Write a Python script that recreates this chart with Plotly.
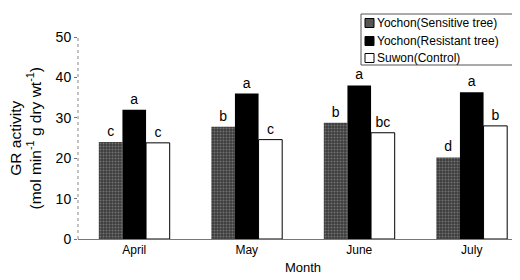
import plotly.graph_objects as go

months = ["April", "May", "June", "July"]
sensitive = [24.0, 27.8, 28.8, 20.2]
resistant = [32.0, 36.0, 38.0, 36.3]
control = [23.8, 24.6, 26.3, 28.0]
sens_labels = ["c", "b", "b", "d"]
res_labels = ["a", "a", "a", "a"]
ctrl_labels = ["c", "c", "bc", "b"]
series_names = ["Yochon(Sensitive tree)", "Yochon(Resistant tree)", "Suwon(Control)"]
y_title = "GR activity<br>(mol min<sup>-1</sup> g dry wt<sup>-1</sup>)"

FONT = "Liberation Sans, Arial, sans-serif"
lab_font = dict(family=FONT, size=14, color="black")

sens_marker = dict(color="#4a4a4a", line=dict(width=0),
                   pattern=dict(shape=".", bgcolor="#3c3c3c", fgcolor="#a8a8a8",
                                size=3, solidity=0.35))
res_marker = dict(color="black", line=dict(width=0))
ctrl_marker = dict(color="white", line=dict(color="black", width=1))

fig = go.Figure()
fig.add_trace(go.Bar(x=months, y=sensitive, name=series_names[0], text=sens_labels,
                     textposition="outside", textfont=lab_font, cliponaxis=False,
                     marker=sens_marker))
fig.add_trace(go.Bar(x=months, y=resistant, name=series_names[1], text=res_labels,
                     textposition="outside", textfont=lab_font, cliponaxis=False,
                     marker=res_marker))
fig.add_trace(go.Bar(x=months, y=control, name=series_names[2], text=ctrl_labels,
                     textposition="outside", textfont=lab_font, cliponaxis=False,
                     marker=ctrl_marker))

# custom compact legend (paper coords: plot area 70..520 px wide, 29..231 px tall)
W, H, L, T = 450.0, 202.0, 70.0, 29.0
def px(x):
    return (x - L) / W
def py(y):
    return (T + H - y) / H

shapes = [
    # dotted y axis line
    dict(type="line", xref="paper", yref="paper", x0=0, x1=0, y0=0, y1=1,
         line=dict(color="#888", width=1, dash="dot"), layer="above"),
    dict(type="rect", xref="paper", yref="paper",
         x0=px(353), x1=px(506), y0=py(57), y1=py(6),
         line=dict(color="#555", width=1), fillcolor="white", layer="above"),
]
annotations = [
    dict(text=y_title, xref="paper", yref="paper", x=px(16.5), y=py(131),
         xanchor="center", yanchor="middle", textangle=-90, showarrow=False,
         align="center", borderpad=0,
         font=dict(family=FONT, size=15.5, color="black")),
]
sym_fill = ["#555555", "black", "white"]
row_y = [15, 33, 50]
for name, fc, yy in zip(series_names, sym_fill, row_y):
    shapes.append(dict(type="rect", xref="paper", yref="paper",
                       x0=px(357), x1=px(366), y0=py(yy + 4.5), y1=py(yy - 4.5),
                       line=dict(color="black", width=1), fillcolor=fc, layer="above"))
    annotations.append(dict(text=name, xref="paper", yref="paper",
                            x=px(367), y=py(yy), xanchor="left", yanchor="middle",
                            showarrow=False,
                            font=dict(family=FONT, size=12, color="black")))

fig.update_layout(
    width=520, height=280,
    margin=dict(l=70, r=0, t=29, b=49),
    paper_bgcolor="white", plot_bgcolor="white",
    barmode="group", bargap=0.37, bargroupgap=0,
    font=dict(family=FONT, size=12, color="black"),
    showlegend=False,
    shapes=shapes, annotations=annotations,
    xaxis=dict(
        automargin=False,
        showline=True, linecolor="#777", linewidth=1,
        ticks="", tickfont=dict(family=FONT, size=12),
        title=dict(text="Month", font=dict(family=FONT, size=13), standoff=6),
    ),
    yaxis=dict(
        automargin=False,
        range=[0, 50], dtick=10, showgrid=False, zeroline=False,
        showline=False,
        ticks="outside", ticklen=3, tickcolor="#777",
        tickfont=dict(family=FONT, size=14),
    ),
)

fig.write_html("out.html")
